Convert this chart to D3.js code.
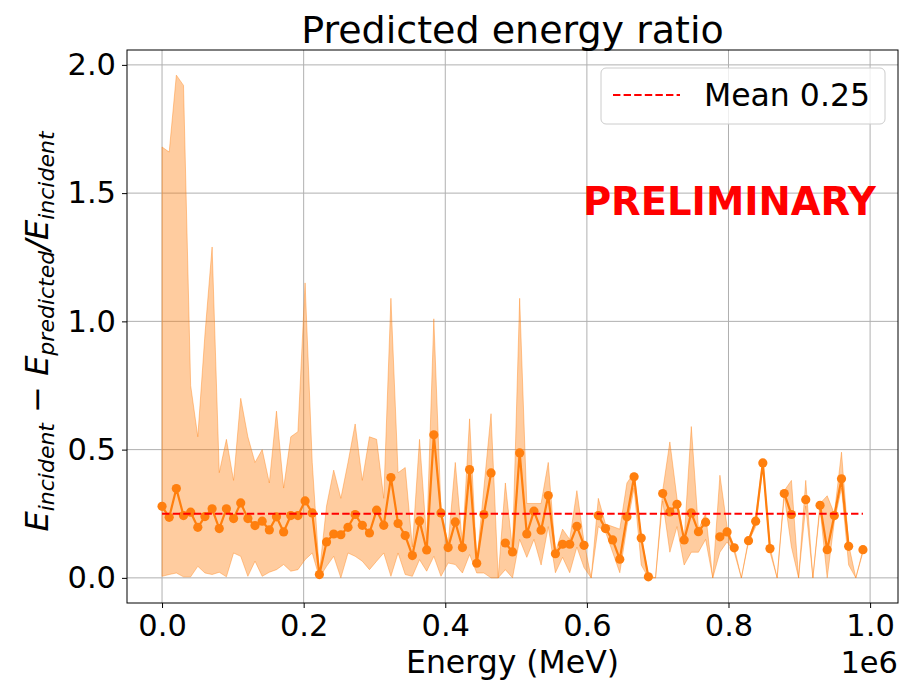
<!DOCTYPE html>
<html>
<head>
<meta charset="utf-8">
<script src="https://cdn.jsdelivr.net/npm/d3@7"></script>
<style>
  html, body { margin: 0; padding: 0; background: #ffffff; }
  svg { display: block; font-family: "DejaVu Sans", sans-serif; }
</style>
</head>
<body>
<svg id="chart" width="902" height="680"></svg>
<script>
// Bin energies (MeV); 99 bins across 0 .. 1e6
const energy = [
  0, 10101, 20202, 30303, 40404, 50505, 60606, 70707, 80808, 90909,
  101010, 111111, 121212, 131313, 141414, 151515, 161616, 171717, 181818, 191919,
  202020, 212121, 222222, 232323, 242424, 252525, 262626, 272727, 282828, 292929,
  303030, 313131, 323232, 333333, 343434, 353535, 363636, 373737, 383838, 393939,
  404040, 414141, 424242, 434343, 444444, 454545, 464646, 474747, 484848, 494949,
  505051, 515152, 525253, 535354, 545455, 555556, 565657, 575758, 585859, 595960,
  606061, 616162, 626263, 636364, 646465, 656566, 666667, 676768, 686869, 696970,
  707071, 717172, 727273, 737374, 747475, 757576, 767677, 777778, 787879, 797980,
  808081, 818182, 828283, 838384, 848485, 858586, 868687, 878788, 888889, 898990,
  909091, 919192, 929293, 939394, 949495, 959596, 969697, 979798, 989899
];

// Mean predicted energy ratio per bin (null = empty bin)
const ratioMean = [
  0.279, 0.236, 0.348, 0.243, 0.256, 0.197, 0.239, 0.269, 0.192, 0.269,
  0.231, 0.292, 0.231, 0.204, 0.221, 0.187, 0.238, 0.179, 0.243, 0.243,
  0.300, 0.253, 0.013, 0.140, 0.171, 0.168, 0.197, 0.247, 0.205, 0.175,
  0.264, 0.205, 0.391, 0.212, 0.165, 0.087, 0.222, 0.109, 0.558, 0.253,
  0.118, 0.218, 0.118, 0.422, 0.057, 0.247, 0.409, null, 0.136, 0.101,
  0.487, 0.171, 0.260, 0.186, 0.321, 0.094, 0.131, 0.131, 0.201, 0.127,
  null, 0.243, 0.192, 0.148, 0.073, 0.238, 0.394, 0.155, 0.004, null,
  0.329, 0.257, 0.287, 0.148, 0.253, 0.180, 0.217, null, 0.160, 0.179,
  0.117, null, 0.145, 0.221, 0.448, 0.114, null, 0.329, 0.247, null,
  0.305, null, 0.283, 0.110, 0.243, 0.386, 0.123, null, 0.110
];

// Upper edge of the spread band per bin
const ratioHigh = [
  1.68, 1.66, 1.96, 1.92, 0.75, 0.55, 0.95, 1.29, 0.41, 0.54,
  0.38, 0.70, 0.55, 0.45, 0.50, 0.37, 0.65, 0.35, 0.55, 0.57,
  1.15, 0.45, 0.02, 0.28, 0.42, 0.31, 0.45, 0.60, 0.38, 0.55,
  0.54, 0.31, 1.09, 0.41, 0.43, 0.12, 0.54, 0.15, 1.01, 0.27,
  0.13, 0.45, 0.13, 0.62, 0.06, 0.35, 0.64, 0.00, 0.37, 0.11,
  1.09, 0.29, 0.29, 0.29, 0.45, 0.10, 0.19, 0.15, 0.34, 0.14,
  0.00, 0.31, 0.21, 0.20, 0.19, 0.37, 0.41, 0.16, 0.01, 0.00,
  0.34, 0.53, 0.31, 0.15, 0.59, 0.19, 0.25, 0.00, 0.40, 0.20,
  0.12, 0.00, 0.15, 0.23, 0.46, 0.12, 0.00, 0.34, 0.38, 0.00,
  0.38, 0.00, 0.29, 0.32, 0.25, 0.49, 0.13, 0.00, 0.11
];

// Lower edge of the spread band per bin
const ratioLow = [
  0.006, 0.013, 0.019, 0.004, 0.004, 0.045, 0.019, 0.013, 0.022, 0.004,
  0.097, 0.084, 0.006, 0.065, 0.006, 0.022, 0.032, 0.052, 0.026, 0.032,
  0.071, 0.097, 0.000, 0.045, 0.084, 0.000, 0.097, 0.084, 0.065, 0.032,
  0.065, 0.097, 0.006, 0.097, 0.013, 0.006, 0.071, 0.026, 0.084, 0.006,
  0.058, 0.052, 0.019, 0.091, 0.019, 0.019, 0.000, 0.000, 0.032, 0.000,
  0.150, 0.080, 0.150, 0.050, 0.200, 0.020, 0.080, 0.020, 0.120, 0.040,
  0.000, 0.200, 0.180, 0.100, 0.020, 0.200, 0.350, 0.050, 0.000, 0.000,
  0.300, 0.100, 0.200, 0.050, 0.100, 0.100, 0.150, 0.000, 0.100, 0.140,
  0.100, 0.000, 0.140, 0.200, 0.440, 0.100, 0.000, 0.320, 0.120, 0.000,
  0.280, 0.000, 0.270, 0.000, 0.220, 0.350, 0.050, 0.000, 0.100
];

const meanRatio = 0.25;
const xTicks = [0, 200000, 400000, 600000, 800000, 1000000];
const xTickLabels = ["0.0", "0.2", "0.4", "0.6", "0.8", "1.0"];
const yTicks = [0, 0.5, 1.0, 1.5, 2.0];
const yTickLabels = ["0.0", "0.5", "1.0", "1.5", "2.0"];

const rows = energy.map((e, i) => ({ e, m: ratioMean[i], lo: ratioLow[i], hi: ratioHigh[i] }));

const frame = { left: 127, right: 898, top: 50, bottom: 603 };
const orange = "#ff7f0e";

// Data limits with 5% padding on each side
const xExt = d3.extent(energy);
const xPad = (xExt[1] - xExt[0]) * 0.05;
const yMin = d3.min(rows, d => Math.min(d.lo, d.m == null ? Infinity : d.m));
const yMax = d3.max(rows, d => Math.max(d.hi, d.m == null ? -Infinity : d.m));
const yPad = (yMax - yMin) * 0.05;

const x = d3.scaleLinear().domain([xExt[0] - xPad, xExt[1] + xPad]).range([frame.left, frame.right]);
const y = d3.scaleLinear().domain([yMin - yPad, yMax + yPad]).range([frame.bottom, frame.top]);

const svg = d3.select("#chart");

// Grid
const grid = svg.append("g");
grid.selectAll("line.gx").data(xTicks).join("line")
  .attr("x1", d => x(d)).attr("x2", d => x(d))
  .attr("y1", frame.top).attr("y2", frame.bottom)
  .attr("stroke", "#b0b0b0").attr("stroke-width", 1);
grid.selectAll("line.gy").data(yTicks).join("line")
  .attr("y1", d => y(d)).attr("y2", d => y(d))
  .attr("x1", frame.left).attr("x2", frame.right)
  .attr("stroke", "#b0b0b0").attr("stroke-width", 1);

// Spread band
const band = d3.area().x(d => x(d.e)).y0(d => y(d.lo)).y1(d => y(d.hi));
svg.append("path").datum(rows)
  .attr("d", band)
  .attr("fill", orange).attr("fill-opacity", 0.4)
  .attr("stroke", orange).attr("stroke-opacity", 0.4).attr("stroke-width", 1);

// Mean ratio line and markers
const meanLine = d3.line().defined(d => d.m != null).x(d => x(d.e)).y(d => y(d.m));
svg.append("path").datum(rows)
  .attr("d", meanLine)
  .attr("fill", "none").attr("stroke", orange).attr("stroke-width", 2.2)
  .attr("stroke-linejoin", "round");
svg.append("g").selectAll("circle").data(rows.filter(d => d.m != null)).join("circle")
  .attr("cx", d => x(d.e)).attr("cy", d => y(d.m)).attr("r", 4.6)
  .attr("fill", orange);

// Overall mean reference
svg.append("line")
  .attr("x1", x(xExt[0])).attr("x2", x(xExt[1]))
  .attr("y1", y(meanRatio)).attr("y2", y(meanRatio))
  .attr("stroke", "#ff0000").attr("stroke-width", 2)
  .attr("stroke-dasharray", "7.4,3.2");

// Axes
const xAxis = d3.axisBottom(x).tickValues(xTicks).tickFormat((d, i) => xTickLabels[i]).tickSize(5).tickPadding(6);
const yAxis = d3.axisLeft(y).tickValues(yTicks).tickFormat((d, i) => yTickLabels[i]).tickSize(5).tickPadding(6);

const gx = svg.append("g").attr("transform", `translate(0,${frame.bottom})`).call(xAxis);
const gy = svg.append("g").attr("transform", `translate(${frame.left},0)`).call(yAxis);
[gx, gy].forEach(g => {
  g.select(".domain").remove();
  g.selectAll("line").attr("stroke", "#000").attr("stroke-width", 1);
  g.selectAll("text").attr("font-family", "DejaVu Sans").attr("font-size", 30.5).attr("fill", "#000");
});

// Frame
svg.append("rect")
  .attr("x", frame.left).attr("y", frame.top)
  .attr("width", frame.right - frame.left).attr("height", frame.bottom - frame.top)
  .attr("fill", "none").attr("stroke", "#000").attr("stroke-width", 1);

// Title
svg.append("text")
  .attr("x", (frame.left + frame.right) / 2).attr("y", 43)
  .attr("text-anchor", "middle").attr("font-size", 38).attr("fill", "#000")
  .text("Predicted energy ratio");

// X label and offset
svg.append("text")
  .attr("x", (frame.left + frame.right) / 2).attr("y", 673)
  .attr("text-anchor", "middle").attr("font-size", 31.5).attr("fill", "#000")
  .text("Energy (MeV)");
svg.append("text")
  .attr("x", frame.right).attr("y", 673)
  .attr("text-anchor", "end").attr("font-size", 30.5).attr("fill", "#000")
  .text("1e6");

// Y label (math-style)
const yl = svg.append("text")
  .attr("transform", `translate(48,${(frame.top + frame.bottom) / 2 + 5}) rotate(-90)`)
  .attr("text-anchor", "middle").attr("font-size", 32).attr("fill", "#000");
yl.append("tspan").attr("font-style", "italic").text("E");
yl.append("tspan").attr("font-style", "italic").attr("font-size", 22).attr("dy", 6).text("incident");
yl.append("tspan").attr("dy", -6).text(" \u2212 ");
yl.append("tspan").attr("font-style", "italic").text("E");
yl.append("tspan").attr("font-style", "italic").attr("font-size", 22).attr("dy", 6).text("predicted");
yl.append("tspan").attr("font-style", "italic").attr("dy", -6).text("/E");
yl.append("tspan").attr("font-style", "italic").attr("font-size", 22).attr("dy", 6).text("incident");

// Watermark
svg.append("text")
  .attr("x", 876).attr("y", 215)
  .attr("text-anchor", "end").attr("font-size", 38.5).attr("font-weight", "bold")
  .attr("fill", "#ff0000")
  .text("PRELIMINARY");

// Legend
const lg = svg.append("g");
lg.append("rect")
  .attr("x", 601).attr("y", 68).attr("width", 284).attr("height", 56)
  .attr("rx", 5).attr("fill", "#ffffff").attr("fill-opacity", 0.8)
  .attr("stroke", "#cccccc").attr("stroke-width", 1);
lg.append("line")
  .attr("x1", 613).attr("x2", 680).attr("y1", 95).attr("y2", 95)
  .attr("stroke", "#ff0000").attr("stroke-width", 2).attr("stroke-dasharray", "7.4,3.2");
lg.append("text")
  .attr("x", 704).attr("y", 106).attr("font-size", 31.5).attr("fill", "#000")
  .text("Mean " + meanRatio);
</script>
</body>
</html>
